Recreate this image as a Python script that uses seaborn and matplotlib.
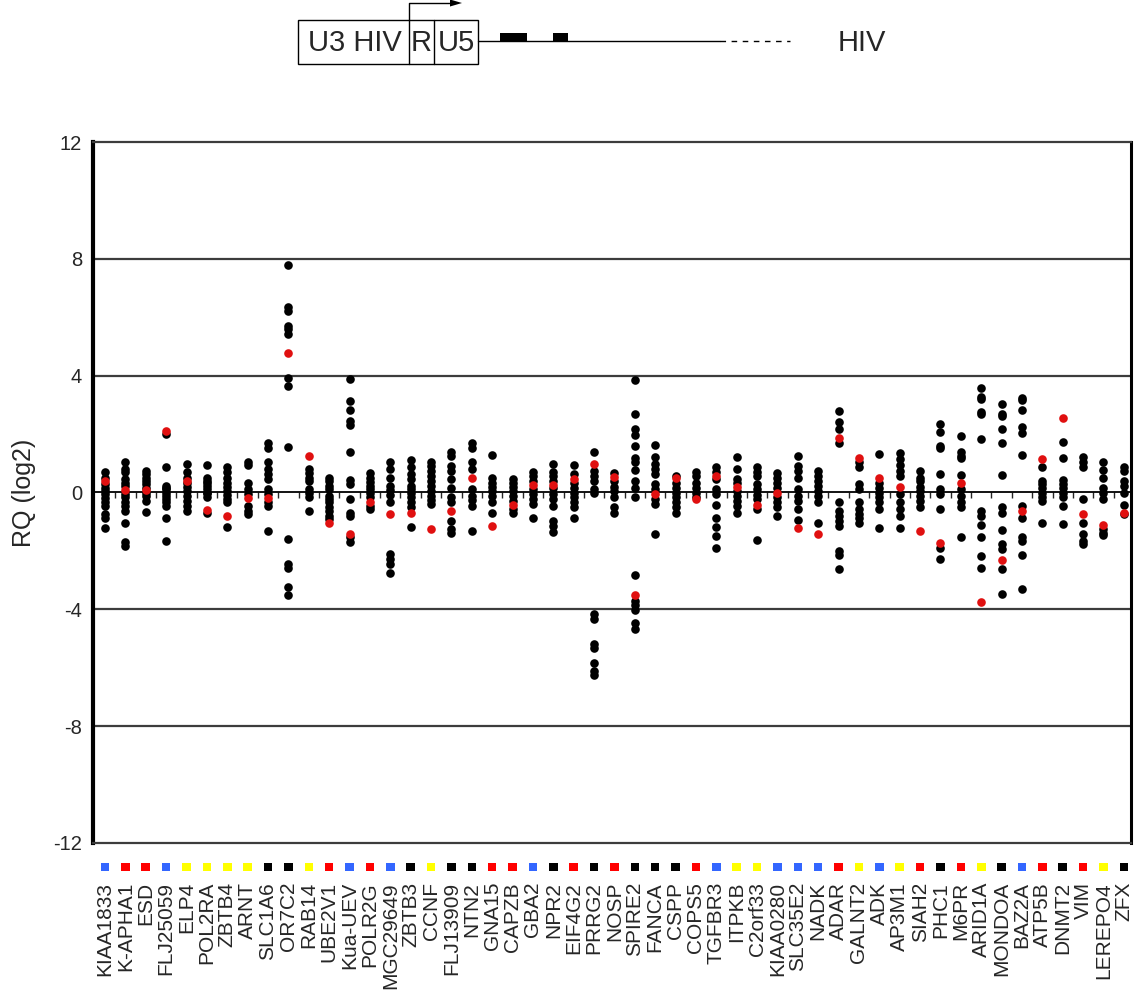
import numpy as np
import pandas as pd
import matplotlib
matplotlib.use("Agg")
import matplotlib.pyplot as plt
import matplotlib.transforms as mtransforms
from matplotlib.patches import Rectangle, Polygon
import seaborn as sns

# Genes along the x axis, with the class colour of each gene
genes = [
    "KIAA1833", "K-APHA1", "ESD", "FLJ25059", "ELP4", "POL2RA", "ZBTB4", "ARNT",
    "SLC1A6", "OR7C2", "RAB14", "UBE2V1", "Kua-UEV", "POLR2G", "MGC29649", "ZBTB3",
    "CCNF", "FLJ13909", "NTN2", "GNA15", "CAPZB", "GBA2", "NPR2", "EIF4G2", "PRRG2",
    "NOSP", "SPIRE2", "FANCA", "CSPP", "COPS5", "TGFBR3", "ITPKB", "C2orf33",
    "KIAA0280", "SLC35E2", "NADK", "ADAR", "GALNT2", "ADK", "AP3M1", "SIAH2", "PHC1",
    "M6PR", "ARID1A", "MONDOA", "BAZ2A", "ATP5B", "DNMT2", "VIM", "LEREPO4", "ZFX",
]
gene_class = [
    "blue", "red", "red", "blue", "yellow", "yellow", "yellow", "yellow",
    "black", "black", "yellow", "red", "blue", "red", "blue", "black",
    "yellow", "black", "black", "red", "red", "blue", "black", "red", "black",
    "red", "black", "black", "black", "red", "blue", "yellow", "yellow",
    "blue", "blue", "blue", "red", "yellow", "blue", "yellow", "red", "black",
    "red", "yellow", "black", "blue", "red", "black", "red", "yellow", "black",
]
class_colors = {"blue": "#3366ff", "red": "#ff0000", "yellow": "#ffff00", "black": "#000000"}

# RQ (log2) of the individual integration clones, one row per gene
clone_rq = [
    [0.69, 0.51, 0.29, 0.17, 0.06, -0.06, -0.2, -0.34, -0.46, -0.74, -0.86, -1.22],
    [1.06, 0.8, 0.69, 0.46, 0.34, 0.23, -0.06, -0.17, -0.34, -0.46, -0.63, -1.03, -1.71, -1.83],
    [0.74, 0.63, 0.51, 0.4, 0.29, 0.17, 0.0, -0.11, -0.29, -0.66],
    [2.0, 0.89, 0.23, 0.17, 0.11, 0.0, -0.11, -0.23, -0.34, -0.46, -0.87, -1.67],
    [0.97, 0.69, 0.51, 0.34, 0.2, 0.06, -0.11, -0.29, -0.46, -0.65],
    [0.94, 0.51, 0.4, 0.34, 0.23, 0.11, 0.0, -0.02, -0.17, -0.69],
    [0.86, 0.69, 0.51, 0.34, 0.2, 0.06, -0.09, -0.23, -0.34, -1.17],
    [1.03, 0.94, 0.34, 0.11, -0.06, -0.46, -0.63, -0.74],
    [1.69, 1.51, 1.03, 0.8, 0.63, 0.46, 0.11, -0.06, -0.34, -0.46, -1.31],
    [7.79, 6.34, 6.23, 5.71, 5.6, 5.43, 3.92, 3.63, 1.57, -1.58, -2.46, -2.57, -3.23, -3.52],
    [0.8, 0.66, 0.51, 0.38, 0.11, 0.0, -0.17, -0.65],
    [0.51, 0.4, 0.23, 0.11, -0.11, -0.23, -0.34, -0.48, -0.63, -0.8, -0.91],
    [3.89, 3.12, 2.83, 2.46, 2.31, 1.39, 0.42, 0.29, -0.23, -0.69, -0.8, -1.54, -1.71],
    [0.66, 0.51, 0.37, 0.23, 0.11, -0.02, -0.17, -0.46, -0.57],
    [1.05, 0.8, 0.51, 0.23, 0.09, -0.09, -0.34, -2.11, -2.29, -2.46, -2.74],
    [1.11, 0.86, 0.63, 0.46, 0.23, 0.11, 0.0, -0.17, -0.34, -0.51, -1.17],
    [1.05, 0.91, 0.74, 0.57, 0.4, 0.23, 0.06, -0.11, -0.25, -0.4],
    [1.39, 1.26, 0.91, 0.74, 0.46, 0.14, -0.17, -0.34, -0.97, -1.26, -1.39],
    [1.71, 1.51, 1.03, 0.8, 0.11, -0.11, -0.25, -0.46, -1.31],
    [1.29, 0.51, 0.34, 0.2, 0.06, -0.11, -0.34, -0.69],
    [0.46, 0.34, 0.2, 0.06, -0.11, -0.29, -0.57, -0.71],
    [0.71, 0.57, 0.4, 0.11, -0.06, -0.23, -0.4, -0.86],
    [0.97, 0.71, 0.57, 0.4, 0.14, -0.06, -0.23, -0.46, -0.97, -1.14, -1.35],
    [0.94, 0.63, 0.34, 0.17, 0.0, -0.17, -0.34, -0.51, -0.89],
    [1.39, 0.74, 0.57, 0.4, 0.11, 0.0, -4.17, -4.34, -5.2, -5.31, -5.83, -6.11, -6.26],
    [0.66, 0.4, 0.2, 0.06, -0.17, -0.51, -0.69],
    [3.84, 2.69, 2.17, 1.97, 1.6, 1.17, 1.03, 0.78, 0.38, 0.17, -0.14, -2.83, -3.71, -3.86, -4.02, -4.46, -4.69],
    [1.63, 1.2, 0.97, 0.8, 0.63, 0.29, 0.11, -0.23, -0.4, -1.43],
    [0.57, 0.34, 0.17, 0.0, -0.17, -0.34, -0.51, -0.69],
    [0.71, 0.57, 0.34, 0.17, 0.0, -0.14],
    [0.89, 0.69, 0.46, 0.11, -0.06, -0.43, -0.89, -1.18, -1.49, -1.89],
    [1.2, 0.8, 0.46, 0.34, 0.06, -0.11, -0.29, -0.46, -0.69],
    [0.86, 0.71, 0.57, 0.29, 0.11, -0.09, -0.23, -0.57, -1.62],
    [0.66, 0.51, 0.34, 0.17, -0.17, -0.34, -0.51, -0.8],
    [1.26, 0.91, 0.74, 0.48, 0.11, -0.11, -0.29, -0.57, -0.94],
    [0.74, 0.57, 0.4, 0.23, 0.06, -0.11, -0.34, -1.03],
    [2.78, 2.4, 2.17, 1.71, -0.34, -0.63, -0.8, -0.97, -1.14, -2.0, -2.15, -2.63],
    [1.03, 0.86, 0.29, 0.11, -0.34, -0.57, -0.74, -0.89, -1.03],
    [1.31, 0.34, 0.17, 0.0, -0.17, -0.34, -0.55, -1.21],
    [1.35, 1.14, 0.94, 0.74, 0.57, -0.06, -0.34, -0.57, -0.8, -1.22],
    [0.74, 0.51, 0.4, 0.2, 0.06, -0.11, -0.29, -0.51],
    [2.34, 2.06, 1.6, 1.51, 0.63, 0.11, -0.06, -0.55, -1.89, -2.29],
    [1.94, 1.37, 1.26, 1.17, 0.59, 0.11, -0.11, -0.34, -0.48, -1.51],
    [3.57, 3.26, 3.2, 2.77, 2.69, 1.83, -0.63, -0.8, -1.1, -1.51, -2.19, -2.58],
    [3.03, 2.69, 2.61, 2.17, 1.71, 0.59, -0.48, -0.71, -1.29, -1.77, -1.94, -2.63, -3.46],
    [3.23, 3.18, 2.82, 2.23, 2.03, 1.29, -0.46, -0.89, -1.54, -1.66, -2.14, -3.31],
    [0.87, 0.4, 0.29, 0.14, 0.0, -0.14, -0.29, -1.05],
    [1.73, 1.17, 0.43, 0.29, 0.14, -0.02, -0.17, -0.46, -1.07],
    [1.23, 1.03, 0.86, -0.21, -1.03, -1.41, -1.66, -1.77],
    [1.03, 0.78, 0.48, 0.14, 0.0, -0.21, -1.26, -1.37, -1.46],
    [0.86, 0.74, 0.4, 0.23, 0.0, -0.43, -0.74],
]

# RQ (log2) of the reference sample for each gene
reference_rq = [
    0.38, 0.08, 0.09, 2.11, 0.4, -0.59, -0.82, -0.18, -0.18, 4.77,
    1.25, -1.03, -1.43, -0.31, -0.75, -0.69, -1.26, -0.64, 0.51, -1.13,
    -0.43, 0.27, 0.27, 0.47, 0.98, 0.53, -3.5, -0.06, 0.5, -0.21,
    0.57, 0.18, -0.43, 0.0, -1.2, -1.42, 1.85, 1.18, 0.5, 0.18,
    -1.31, -1.74, 0.31, -3.74, -2.3, -0.62, 1.13, 2.54, -0.75, -1.11, -0.69,
]

y_ticks = [-12, -8, -4, 0, 4, 8, 12]

clones = pd.DataFrame(
    [(g, v) for g, vals in zip(genes, clone_rq) for v in vals], columns=["gene", "rq"]
)
reference = pd.DataFrame({"gene": genes, "rq": reference_rq})

sns.set_style("white")
plt.rcParams["font.family"] = ["Liberation Sans", "DejaVu Sans"]

W, H = 1138, 999
fig = plt.figure(figsize=(W / 100, H / 100), dpi=100)
ax = fig.add_axes([93 / W, 1 - 843 / H, 1038 / W, 701 / H])

sns.stripplot(data=clones, x="gene", y="rq", order=genes, jitter=False,
              color="black", size=6.2, linewidth=0, ax=ax, zorder=3)
sns.stripplot(data=reference, x="gene", y="rq", order=genes, jitter=False,
              color="#e01010", size=6.2, linewidth=0, ax=ax, zorder=4)

ax.set_xlim(-0.59, 50.35)
ax.set_ylim(-12, 12)
ax.set_yticks(y_ticks)
ax.set_yticklabels([str(t) for t in y_ticks], fontsize=14.5)
ax.tick_params(axis="y", length=4, width=1, direction="out", pad=4)
ax.set_ylabel("RQ (log2)", fontsize=18, labelpad=12)
ax.set_xlabel("")

# Horizontal rules at every 4 units
for t in y_ticks[1:-1]:
    if t != 0:
        ax.axhline(t, color="#3c3c3c", lw=1.6, zorder=1)

for side in ["top", "bottom"]:
    ax.spines[side].set_color("#3c3c3c")
    ax.spines[side].set_linewidth(1.6)
ax.spines["left"].set_color("black")
ax.spines["left"].set_linewidth(3)
ax.spines["right"].set_color("black")
ax.spines["right"].set_linewidth(2.2)

# Zero line with minor ticks between the genes
zero_axis = ax.secondary_xaxis(0.5)
zero_axis.set_xticks(np.arange(len(genes) - 1) + 0.5)
zero_axis.tick_params(direction="in", length=4, width=1, labeltop=False, labelbottom=False)
zero_axis.spines["top"].set_linewidth(1.3)
zero_axis.spines["top"].set_color("black")
zero_axis.set_zorder(2)

# Gene names below the panel
ax.set_xticks(range(len(genes)))
ax.set_xticklabels(genes, rotation=90, fontsize=15)
ax.tick_params(axis="x", length=0, pad=28)

# Class colour squares above the names
square_trans = mtransforms.blended_transform_factory(ax.transData, ax.transAxes)
ax.scatter(range(len(genes)), [-0.034] * len(genes), transform=square_trans,
           marker="s", s=38, c=[class_colors[c] for c in gene_class],
           linewidths=0, clip_on=False, zorder=5)

# Provirus schematic across the top
dax = fig.add_axes([0, 0, 1, 1], zorder=-1)
dax.set_xlim(0, W)
dax.set_ylim(H, 0)
dax.axis("off")
box_top, box_bot = 20, 64
line_y = 41
dax.add_patch(Rectangle((298, box_top), 180, box_bot - box_top, fill=False, ec="black", lw=1))
dax.plot([409, 409], [box_top, box_bot], color="black", lw=1)
dax.plot([434, 434], [box_top, box_bot], color="black", lw=1)
dax.text(355, 43, "U3 HIV", fontsize=21, ha="center", va="center")
dax.text(421.5, 43, "R", fontsize=21, ha="center", va="center")
dax.text(456, 43, "U5", fontsize=21, ha="center", va="center")
dax.text(862, 43, "HIV", fontsize=21, ha="center", va="center")
dax.plot([478, 720], [line_y, line_y], color="black", lw=1)
dax.plot([720, 790], [line_y, line_y], color="black", lw=1, ls=(0, (4, 4)))
dax.add_patch(Rectangle((500, line_y - 8), 27, 8, color="black", lw=0))
dax.add_patch(Rectangle((553, line_y - 8), 15, 8, color="black", lw=0))
dax.plot([409, 409, 452], [box_top, 3, 3], color="black", lw=1)
dax.add_patch(Polygon([[450, -0.5], [462, 3], [450, 6.5]], closed=True, color="black", lw=0))

fig.savefig("out.png", dpi=100)
